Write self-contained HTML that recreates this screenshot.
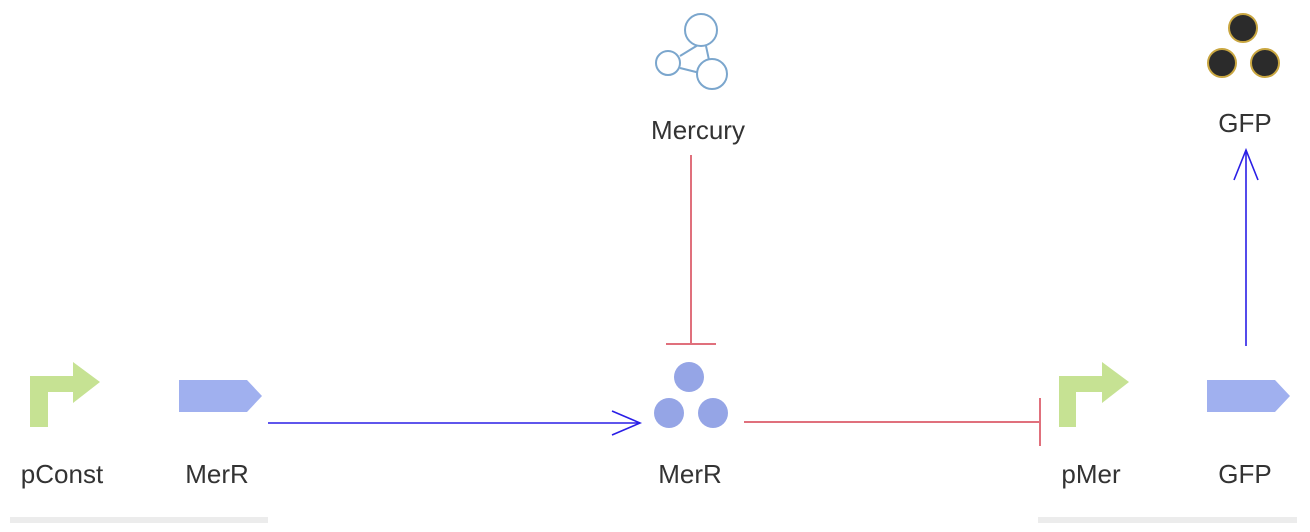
<!DOCTYPE html>
<html><head><style>
html,body{margin:0;padding:0;background:#fff;}
svg{display:block;}
text{font-family:"Liberation Sans",sans-serif;font-size:26px;fill:#333;text-anchor:middle;}
</style></head><body>
<svg width="1310" height="532" viewBox="0 0 1310 532">
<rect x="10" y="517" width="258" height="6" fill="#ececec"/>
<rect x="1038" y="517" width="259" height="6" fill="#ececec"/>
<!-- pConst -->
<path d="M30,427 V376 H73 V362 L100,382 L73,403 V392 H48 V427 Z" fill="#c6e293"/>
<path d="M1059,427 V376 H1102 V362 L1129,382 L1102,403 V392 H1076 V427 Z" fill="#c6e293"/>
<path d="M179,380 H247 L262,396 L247,412 H179 Z" fill="#a0b0ef"/>
<path d="M1207,380 H1275 L1290,396 L1275,412 H1207 Z" fill="#a0b0ef"/>
<!-- mercury -->
<g fill="#fff" stroke="#7ba6cd" stroke-width="2">
<line x1="698" y1="45" x2="680" y2="56"/><line x1="706" y1="46" x2="709" y2="60"/><line x1="680" y1="68" x2="700" y2="73"/>
<circle cx="701" cy="30" r="16"/><circle cx="668" cy="63" r="12"/><circle cx="712" cy="74" r="15"/>
</g>
<!-- MerR complex -->
<g fill="#95a5e6"><circle cx="689" cy="377" r="15"/><circle cx="669" cy="413" r="15"/><circle cx="713" cy="413" r="15"/></g>
<g fill="#2b2b2b" stroke="#c9a640" stroke-width="2"><circle cx="1243" cy="28" r="14"/><circle cx="1222" cy="63" r="14"/><circle cx="1265" cy="63" r="14"/></g>
<!-- edges -->
<g fill="none" stroke="#2a1ee6" stroke-width="1.6">
<line x1="268" y1="423" x2="640" y2="423"/><path d="M612,411 L640,423 L612,435"/>
<line x1="1246" y1="346" x2="1246" y2="150"/><path d="M1234,180 L1246,150 L1258,180"/>
</g>
<g stroke="#e0707c" stroke-width="2">
<line x1="744" y1="422" x2="1040" y2="422"/><line x1="1040" y1="398" x2="1040" y2="446"/>
<line x1="691" y1="155" x2="691" y2="344"/><line x1="666" y1="344" x2="716" y2="344"/>
</g>
<text x="62" y="483">pConst</text>
<text x="217" y="483">MerR</text>
<text x="690" y="483">MerR</text>
<text x="1091" y="483">pMer</text>
<text x="1245" y="483">GFP</text>
<text x="698" y="139">Mercury</text>
<text x="1245" y="132">GFP</text>
</svg>
</body></html>
